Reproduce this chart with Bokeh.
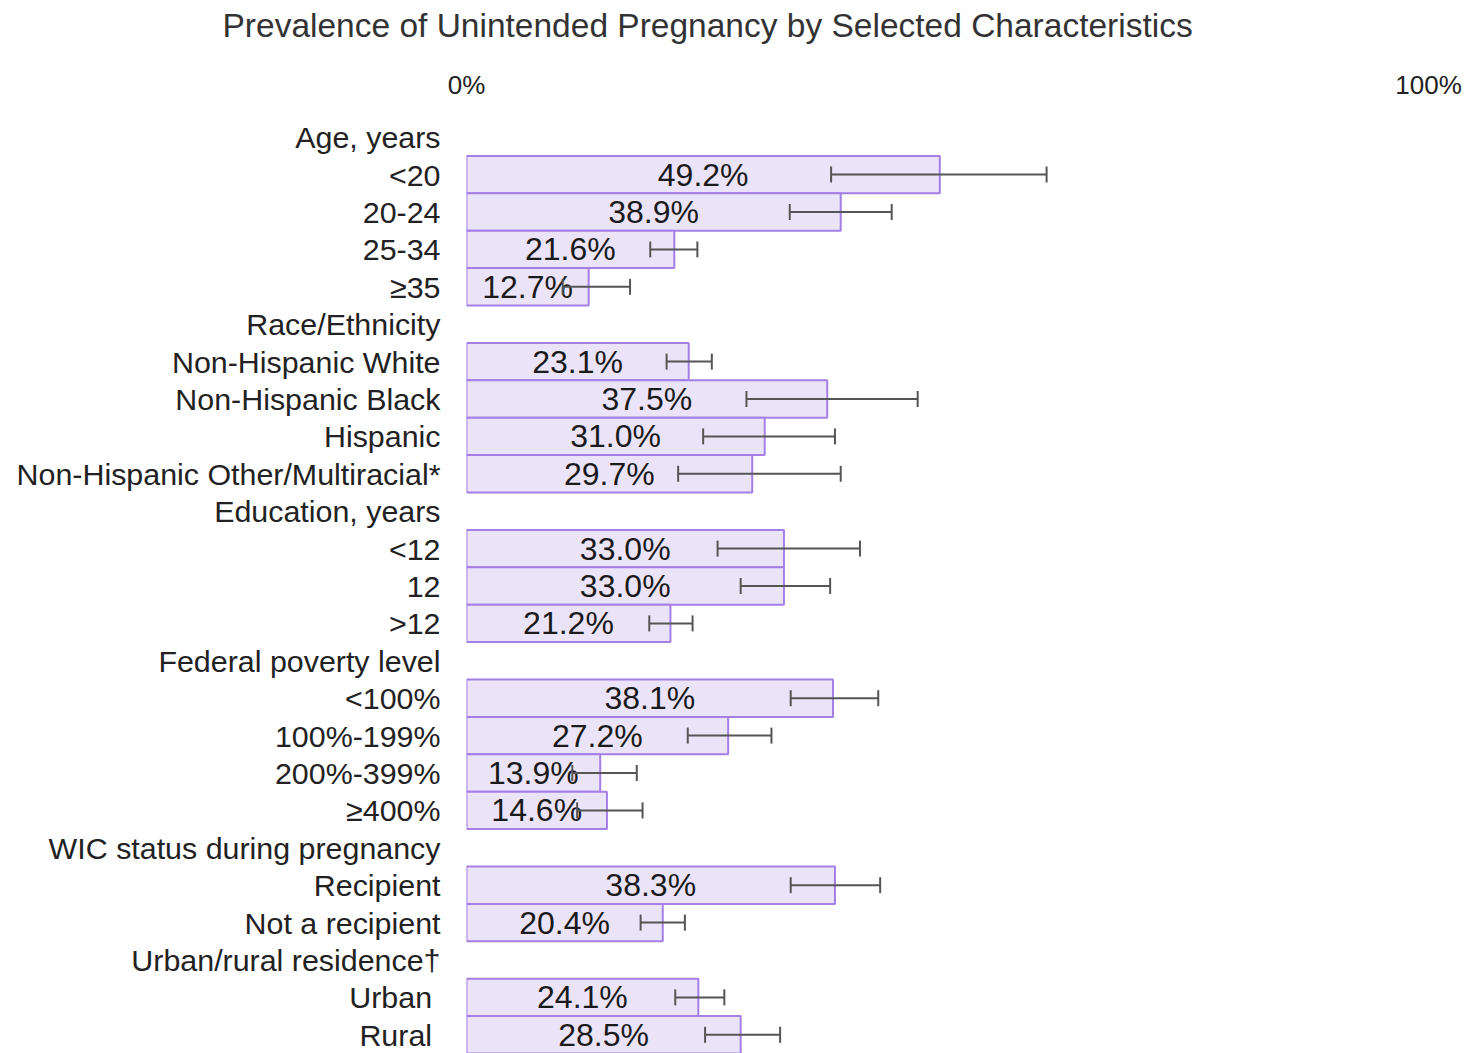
from bokeh.plotting import figure
from bokeh.models import ColumnDataSource, FactorRange, Range1d, FixedTicker, Whisker, TeeHead
from bokeh.core.properties import value
from bokeh.embed import file_html
from bokeh.resources import INLINE

# ---- data ----
row_labels = [
    "Age, years", "<20", "20-24", "25-34", "\u226535",
    "Race/Ethnicity", "Non-Hispanic White", "Non-Hispanic Black", "Hispanic",
    "Non-Hispanic Other/Multiracial*",
    "Education, years", "<12", "12", ">12",
    "Federal poverty level", "<100%", "100%-199%", "200%-399%", "\u2265400%",
    "WIC status during pregnancy", "Recipient", "Not a recipient",
    "Urban/rural residence\u2020", "Urban\u00a0", "Rural\u00a0",
]
bar_labels = [
    "<20", "20-24", "25-34", "\u226535",
    "Non-Hispanic White", "Non-Hispanic Black", "Hispanic", "Non-Hispanic Other/Multiracial*",
    "<12", "12", ">12",
    "<100%", "100%-199%", "200%-399%", "\u2265400%",
    "Recipient", "Not a recipient",
    "Urban\u00a0", "Rural\u00a0",
]
prevalence = [49.2, 38.9, 21.6, 12.7, 23.1, 37.5, 31.0, 29.7, 33.0, 33.0, 21.2,
              38.1, 27.2, 13.9, 14.6, 38.3, 20.4, 24.1, 28.5]
ci_low = [37.9, 33.6, 19.1, 10.0, 20.8, 29.1, 24.6, 22.0, 26.1, 28.5, 19.0,
          33.7, 23.0, 11.0, 11.5, 33.7, 18.1, 21.7, 24.8]
ci_high = [60.3, 44.2, 24.0, 17.0, 25.5, 46.9, 38.3, 38.9, 40.9, 37.8, 23.5,
           42.8, 31.7, 17.7, 18.3, 43.0, 22.7, 26.8, 32.6]
x_ticks = [0, 100]
title_text = "Prevalence of Unintended Pregnancy by Selected Characteristics"

FONT = "Liberation Sans"

src = ColumnDataSource(dict(
    cat=bar_labels,
    val=prevalence,
    mid=[v / 2 for v in prevalence],
    txt=["%.1f%%" % v for v in prevalence],
    lo=ci_low,
    hi=ci_high,
))

p = figure(
    width=1481, height=1053,
    y_range=FactorRange(factors=list(reversed(row_labels)), range_padding=0),
    x_range=Range1d(0, 100),
    x_axis_location="above",
    output_backend="svg", toolbar_location=None,
    min_border_left=466, min_border_right=53, min_border_bottom=0, min_border_top=118,
)
p.outline_line_color = None
p.background_fill_color = "white"
p.border_fill_color = "white"

p.title.text = title_text
p.title.text_font = FONT
p.title.text_font_size = "33.5px"
p.title.text_font_style = "normal"
p.title.text_color = "#333333"
p.title.align = "left"
p.title.offset = -244
p.title.standoff = 10
p.title.vertical_align = "top"

# x axis on top
xa = p.xaxis[0]
xa.ticker = FixedTicker(ticks=x_ticks)
xa.major_label_overrides = {0: "0%", 100: "100%"}
xa.axis_line_color = None
xa.major_tick_line_color = None
xa.minor_tick_line_color = None
xa.major_tick_out = 0
xa.major_label_standoff = 19
xa.major_label_text_font = FONT
xa.major_label_text_font_size = "26px"
xa.major_label_text_color = "#222222"
# empty spacer label to keep the title clear of the tick labels
xa.axis_label = "\u00a0"
xa.axis_label_text_font_size = "10px"
xa.axis_label_standoff = 2

ya = p.yaxis[0]
ya.axis_line_color = None
ya.major_tick_line_color = None
ya.minor_tick_line_color = None
ya.major_tick_out = 0
ya.major_label_standoff = 26
ya.major_label_text_font = FONT
ya.major_label_text_font_size = "30.4px"
ya.major_label_text_color = "#222222"

p.ygrid.grid_line_color = None
p.xgrid.grid_line_color = "#d9d9d9"
p.xgrid.grid_line_width = 2

p.hbar(y="cat", left=0, right="val", height=1.0, source=src,
       fill_color="#ebe4f8", line_color="#a47fe6", line_width=2)

p.text(x="mid", y="cat", text="txt", source=src,
       text_align="center", text_baseline="middle",
       text_font=value(FONT), text_font_size="32px", text_color="#1a1a1a")

w = Whisker(base="cat", lower="lo", upper="hi", dimension="width", source=src,
            level="overlay",
            line_color="#555555", line_width=2,
            lower_head=TeeHead(size=16, line_color="#555555", line_width=2),
            upper_head=TeeHead(size=16, line_color="#555555", line_width=2))
p.add_layout(w)

open("out.html", "w").write(file_html(p, INLINE))
